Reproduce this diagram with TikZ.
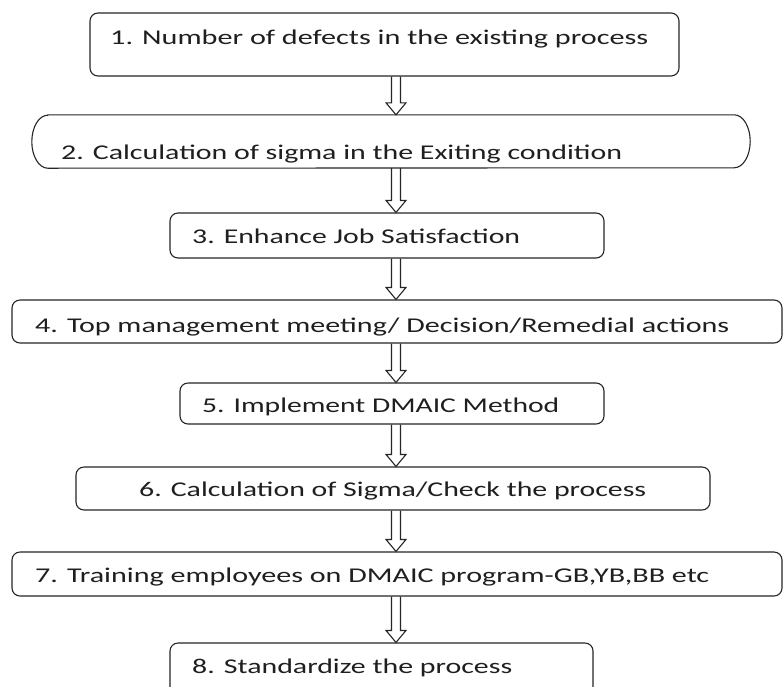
\documentclass[tikz,border=0pt]{standalone}
\usepackage{fontspec}
\setmainfont{Carlito}
\usetikzlibrary{calc}
\tikzset{
  box/.style={draw=black!85, line width=1.1pt, rounded corners=8pt, inner sep=0pt},
  outline/.style={draw=black!85, line width=1.1pt},
  txt/.style={anchor=base west, inner sep=0pt, text=black!88, font=\fontsize{21}{25}\selectfont},
  flow/.style={draw=black!85, line width=1.1pt, line join=miter},
}
\newcommand{\fitw}[2]{\resizebox{#1pt}{\height}{#2}}
\newcommand{\flowarrow}[2]{%
  \path[flow] let \p1=(#1.south -| ax), \p2=(#2.north -| ax) in
    (\x1-4.5pt,\y1) -- (\x1-4.5pt,\y2+12pt) -- (\x1-10pt,\y2+12pt) -- (\x1,\y2)
    -- (\x1+10pt,\y2+12pt) -- (\x1+4.5pt,\y2+12pt) -- (\x1+4.5pt,\y1);}
\begin{document}
\begin{tikzpicture}[x=1pt,y=-1pt]
\useasboundingbox (0,0) rectangle (783,686);
\clip (0,0) rectangle (783,686);
\fill[white] (0,0) rectangle (783,686);
\coordinate (ax) at (396,0);

% boxes
\node[box, minimum width=589pt, minimum height=63pt] (b1) at (384.5,44.5) {};
\node[draw=none, inner sep=0pt, minimum width=718pt, minimum height=53pt] (b2) at (391,141.5) {};
\draw[outline] ([xshift=16pt]b2.north west) -- ([xshift=-16pt]b2.north east)
  arc[start angle=90, end angle=-90, x radius=16pt, y radius=26.5pt]
  -- ([xshift=16pt]b2.south west)
  arc[start angle=270, end angle=90, x radius=16pt, y radius=26.5pt] -- cycle;
\node[box, minimum width=434pt, minimum height=45pt] (b3) at (387,235.5) {};
\node[box, minimum width=770pt, minimum height=43pt] (b4) at (397,321.5) {};
\node[box, minimum width=424pt, minimum height=41pt] (b5) at (392,403.5) {};
\node[box, minimum width=634pt, minimum height=43pt] (b6) at (393,488.5) {};
\node[box, minimum width=770pt, minimum height=44pt] (b7) at (397,574) {};
\node[box, minimum width=423pt, minimum height=60pt] (b8) at (381.5,673) {};

% texts
\node[txt] (t1) at (110,44) {\fitw{538}{1. Number of defects in the existing process}};
\node[txt] (t2) at (61,159) {\fitw{561}{2. Calculation of sigma in the Exiting condition}};
\node[txt] (t3) at (192,243) {\fitw{328}{3. Enhance Job Satisfaction}};
\node[txt] (t4) at (35,332) {\fitw{694}{4. Top management meeting/ Decision/Remedial actions}};
\node[txt] (t5) at (202,412) {\fitw{357}{5. Implement DMAIC Method}};
\node[txt] (t6) at (139,496) {\fitw{507}{6. Calculation of Sigma/Check the process}};
\node[txt] (t7) at (35,582) {\fitw{674}{7. Training employees on DMAIC program-GB,YB,BB etc}};
\node[txt] (t8) at (192,673) {\fitw{320}{8. Standardize the process}};

% connectors
\flowarrow{b1}{b2}
\flowarrow{b2}{b3}
\flowarrow{b3}{b4}
\flowarrow{b4}{b5}
\flowarrow{b5}{b6}
\flowarrow{b6}{b7}
\flowarrow{b7}{b8}
\end{tikzpicture}
\end{document}
